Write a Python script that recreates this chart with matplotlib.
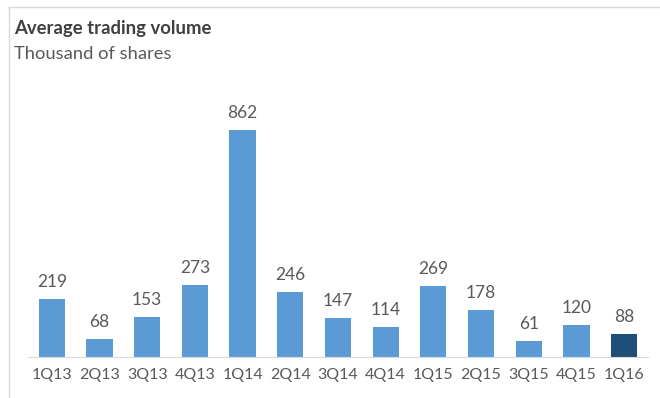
import matplotlib.pyplot as plt
from matplotlib.lines import Line2D

# data
quarters = ['1Q13', '2Q13', '3Q13', '4Q13', '1Q14', '2Q14', '3Q14',
            '4Q14', '1Q15', '2Q15', '3Q15', '4Q15', '1Q16']
volume = [219, 68, 153, 273, 862, 246, 147, 114, 269, 178, 61, 120, 88]

plt.rcParams['font.family'] = ['Lato', 'DejaVu Sans']

fig = plt.figure(figsize=(6.6, 3.98), dpi=100)
ax = fig.add_axes([0.0424, 0.103, 0.9394, 0.628])

colors = ['#5B9BD5'] * (len(volume) - 1) + ['#1F4E79']
x = range(len(quarters))
bars = ax.bar(x, volume, width=0.55, color=colors)

for b, v in zip(bars, volume):
    ax.text(b.get_x() + b.get_width() / 2, v + 35, str(v),
            ha='center', va='bottom', fontsize=12.5, color='#595959')

ax.set_xlim(-0.5, len(quarters) - 0.5)
ax.set_ylim(0, 950)
ax.set_xticks(list(x))
ax.set_xticklabels(quarters, fontsize=11.5, color='#595959')
ax.tick_params(axis='x', length=0, pad=8)
ax.set_yticks([])
for s in ['top', 'right', 'left']:
    ax.spines[s].set_visible(False)
ax.spines['bottom'].set_color('#D9D9D9')

fig.text(0.021, 0.928, 'Average trading volume', fontsize=13.3,
         fontweight='bold', color='#404040', va='center')
fig.text(0.021, 0.865, 'Thousand of shares', fontsize=13.2,
         color='#595959', va='center')

# outer frame (top and left edges visible)
fig.add_artist(Line2D([0.0136, 1.0], [0.982, 0.982], color='#D9D9D9', lw=1))
fig.add_artist(Line2D([0.0136, 0.0136], [0.0, 0.982], color='#D9D9D9', lw=1))

fig.savefig('out.png', dpi=100)
